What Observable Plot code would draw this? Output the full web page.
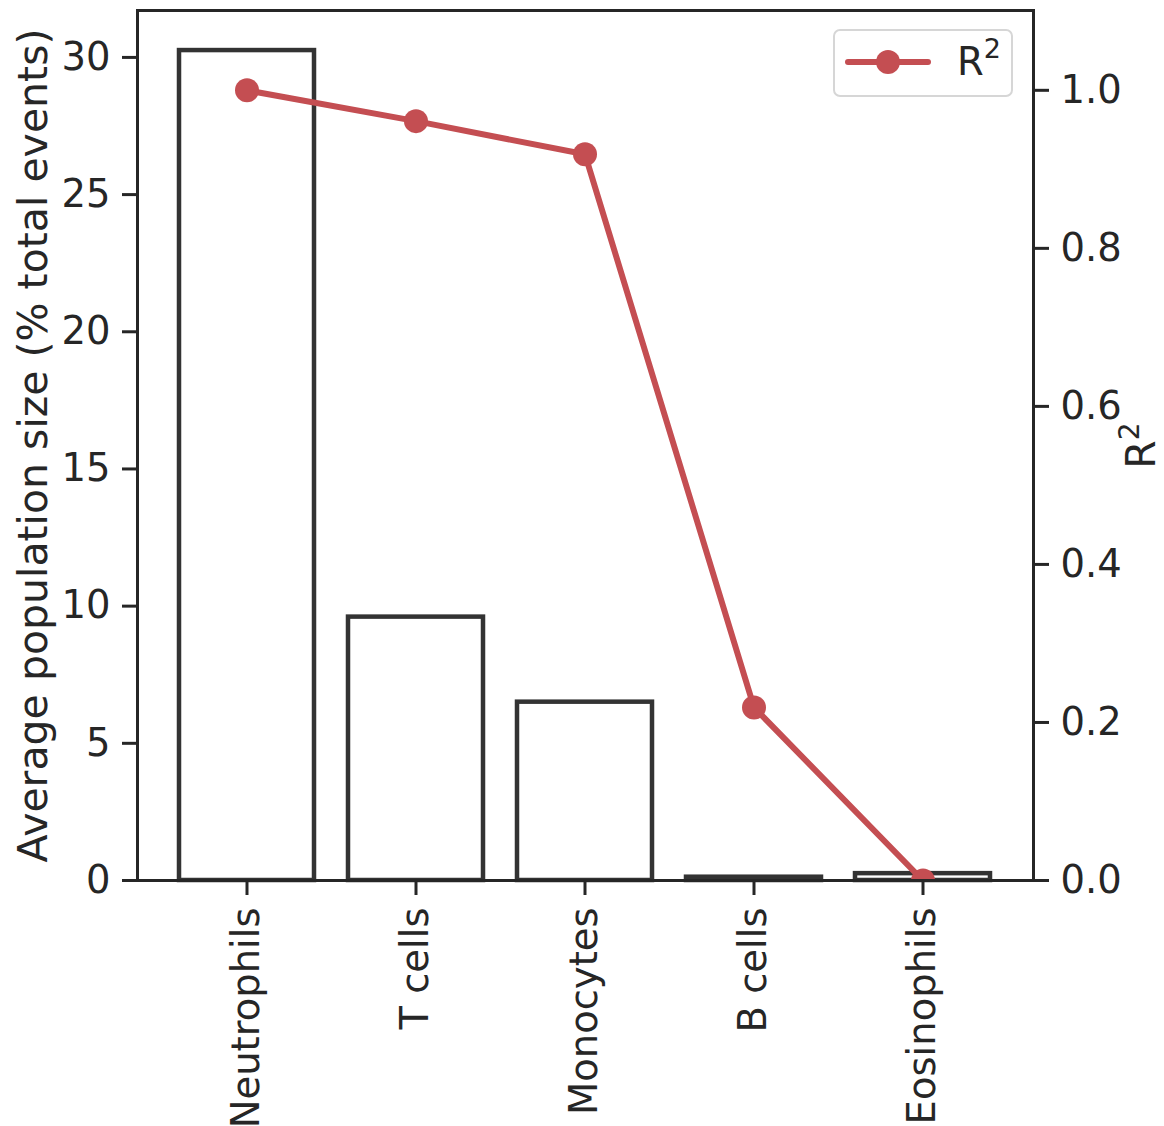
<!DOCTYPE html>
<html>
<head>
<meta charset="utf-8">
<script src="https://cdn.jsdelivr.net/npm/d3@7"></script>
<script src="https://cdn.jsdelivr.net/npm/@observablehq/plot@0.6"></script>
<style>
  body { margin: 0; background: #fff; }
  #wrap { position: relative; width: 1164px; height: 1126px; font-family: "DejaVu Sans", sans-serif; }
  #legend {
    position: absolute; left: 833px; top: 29px; width: 176px; height: 64px;
    border: 2px solid #d6d6d6; border-radius: 7px; background: rgba(255,255,255,0.85);
  }
  #legend svg { position: absolute; left: 0; top: 0; }
  #legend .lab { position: absolute; left: 122px; top: 11px; font-size: 38.5px; color: #262626; line-height: 40px; }
  #legend .lab sup { font-size: 27px; position: relative; top: -5px; vertical-align: top; line-height: 24px; }
</style>
</head>
<body>
<div id="wrap"></div>
<script>
// ---- data ----
const categories = ["Neutrophils", "T cells", "Monocytes", "B cells", "Eosinophils"];
const popSize = [30.25, 9.6, 6.5, 0.12, 0.25];   // Average population size (% total events)
const r2 = [1.0, 0.961, 0.919, 0.219, 0.0];     // R²
const leftTicks = [0, 5, 10, 15, 20, 25, 30];
const rightTicks = [0, 0.2, 0.4, 0.6, 0.8, 1.0];
const leftMax = 31.71;
const rightMax = 1.101;

const K = leftMax / rightMax; // maps R² into left-axis units
const bars = categories.map((c, i) => ({cat: c, v: popSize[i]}));
const pts = categories.map((c, i) => ({cat: c, r: r2[i] * K}));

const ink = "#262626";
const red = "#C44E52";
const tickFont = 38.5;
const labelFont = 41;

const chart = Plot.plot({
  width: 1164,
  height: 1126,
  marginLeft: 137,
  marginRight: 131,
  marginTop: 10,
  marginBottom: 246,
  style: {fontFamily: "DejaVu Sans, sans-serif", fontSize: tickFont + "px", color: ink, background: "white", overflow: "visible"},
  x: {type: "band", domain: categories, paddingInner: 0.2, paddingOuter: 0.243},
  y: {domain: [0, leftMax]},
  marks: [
    Plot.barY(bars, {x: "cat", y: "v", fill: "white", stroke: "#333", strokeWidth: 4.5}),
    Plot.line(pts, {x: "cat", y: "r", stroke: red, strokeWidth: 6, clip: true}),
    Plot.dot(pts, {x: "cat", y: "r", r: 12, fill: red, stroke: "none", clip: true}),
    Plot.frame({stroke: ink, strokeWidth: 3}),
    Plot.axisY({anchor: "left", ticks: leftTicks, tickSize: 15, tickPadding: 12, strokeWidth: 3, stroke: ink, fontSize: tickFont, label: null}),
    Plot.axisY({anchor: "right", ticks: rightTicks.map(t => t * K), tickFormat: d => (d / K).toFixed(1), tickSize: 15, tickPadding: 12, strokeWidth: 3, stroke: ink, fontSize: tickFont, label: null}),
    Plot.axisX({anchor: "bottom", tickSize: 15, tickPadding: 12, tickRotate: -90, strokeWidth: 3, stroke: ink, fontSize: tickFont, label: null}),
    Plot.text(["Average population size (% total events)"], {frameAnchor: "left", dx: -104, rotate: -90, textAnchor: "middle", fill: ink, fontSize: labelFont}),
    Plot.text(["R2"], {frameAnchor: "right", dx: 108, rotate: -90, textAnchor: "middle", fill: ink, fontSize: labelFont, className: "r2label"})
  ]
});

// render the right-axis "R2" with a real superscript
d3.select(chart).selectAll("g.r2label text").each(function () {
  const t = d3.select(this);
  t.text("R");
  t.append("tspan").attr("baseline-shift", "super").attr("font-size", 28).text("2");
});

const wrap = document.getElementById("wrap");
wrap.appendChild(chart);

// legend
const lg = document.createElement("div");
lg.id = "legend";
lg.innerHTML = `<svg width="176" height="64"><line x1="13" x2="93" y1="31" y2="31" stroke="${red}" stroke-width="6" stroke-linecap="round"/><circle cx="53" cy="31" r="12" fill="${red}"/></svg><div class="lab">R<sup>2</sup></div>`;
wrap.appendChild(lg);
</script>
</body>
</html>
